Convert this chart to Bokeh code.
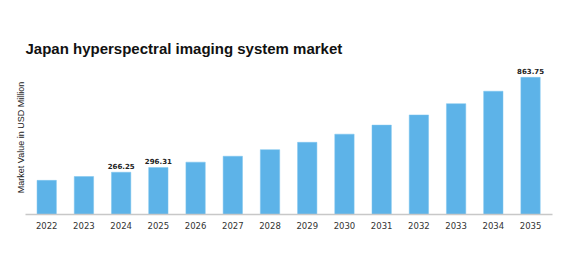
from bokeh.plotting import figure
from bokeh.models import Range1d, FixedTicker, ColumnDataSource, LabelSet
from bokeh.core.properties import value
from bokeh.embed import file_html
from bokeh.resources import INLINE

years = [2022, 2023, 2024, 2025, 2026, 2027, 2028, 2029, 2030, 2031, 2032, 2033, 2034, 2035]
values = [215.0, 239.3, 266.25, 296.31, 329.8, 367.0, 408.5, 454.7, 506.0, 563.0, 627.0, 698.0, 776.6, 863.75]
label_years = [2024, 2025, 2035]
label_values = [266.25, 296.31, 863.75]
label_texts = ["266.25", "296.31", "863.75"]

p = figure(width=567, height=268, output_backend="svg", toolbar_location=None,
           x_range=Range1d(2021.43, 2035.59), y_range=Range1d(0, 970),
           min_border_left=25, min_border_right=15, min_border_bottom=54, min_border_top=60)

p.title.text = "Japan hyperspectral imaging system market"
p.title.text_font = "Liberation Sans"
p.title.text_font_size = "15px"
p.title.text_font_style = "bold"
p.title.text_color = "#111111"
p.title.align = "left"
p.title.standoff = 7

src = ColumnDataSource(dict(x=years, top=values))
p.vbar(x="x", top="top", width=0.52, source=src, color="#5DB3E8", line_color="#7CC4EE", line_width=0.5)

lsrc = ColumnDataSource(dict(x=label_years, y=label_values, t=label_texts))
p.add_layout(LabelSet(x="x", y="y", text="t", source=lsrc, text_align="center",
                      text_font=value("DejaVu Sans"), text_font_size=value("7px"),
                      text_font_style=value("bold"),
                      text_color="#222222", y_offset=3))

p.xaxis.ticker = FixedTicker(ticks=years)
p.xaxis.major_tick_line_color = None
p.xaxis.minor_tick_line_color = None
p.xaxis.axis_line_color = "#C8C8C8"
p.xaxis.axis_line_width = 1.5
p.xaxis.major_label_text_font = "DejaVu Sans"
p.xaxis.major_label_text_font_size = "8.5px"
p.xaxis.major_label_text_color = "#333333"
p.xaxis.major_label_standoff = 1

p.yaxis.ticker = FixedTicker(ticks=[])
p.yaxis.axis_label = "Market Value in USD Million"
p.yaxis.axis_label_text_font = "Liberation Sans"
p.yaxis.axis_label_text_font_size = "9px"
p.yaxis.axis_label_text_font_style = "normal"
p.yaxis.axis_label_text_color = "#222222"
p.yaxis.axis_label_standoff = 0
p.yaxis.major_tick_line_color = None
p.yaxis.minor_tick_line_color = None
p.yaxis.axis_line_color = None

p.xgrid.grid_line_color = None
p.ygrid.grid_line_color = None
p.outline_line_color = None
p.background_fill_color = "white"
p.border_fill_color = "white"

open("out.html", "w").write(file_html(p, INLINE))
